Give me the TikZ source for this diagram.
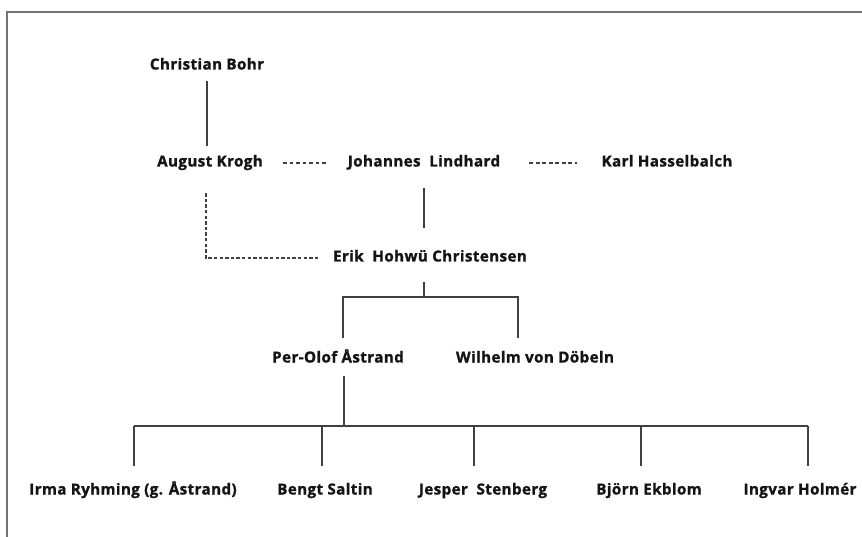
\documentclass[tikz,border=0pt]{standalone}
\usepackage{fontspec}
\setmainfont{Open Sans}[LetterSpace=2.5, BoldFeatures={FakeBold=1.2}]
\usetikzlibrary{positioning}

\begin{document}
\begin{tikzpicture}[x=1pt,y=1pt,yscale=-1,xscale=1,
  person/.style={font=\fontsize{15.2}{17}\selectfont\bfseries, text=black!92, inner sep=0pt, text height=10pt, text depth=3pt},
  link/.style={draw=black!75, line width=1.2pt},
  loose/.style={link, line width=1.6pt, dash pattern=on 3.8pt off 2.7pt},
  dotted link/.style={link, line width=1.4pt, dash pattern=on 3.4pt off 2.2pt}]
\useasboundingbox (0,0) rectangle (862,537);

%Frame
\draw [black!55, line width=1.2pt] (7,537) -- (7,12) -- (862,12) ;

% Text Node
\node [person] (bohr) at (207,66) {Christian Bohr};
% Text Node
\node [person] (krogh) at (210,163) {August Krogh};
% Text Node
\node [person] (lindhard) at (424,163) {Johannes~~Lindhard};
% Text Node
\node [person] (hasselbalch) at (667,163) {Karl Hasselbalch};
% Text Node
\node [person] (erik) at (430,258) {Erik~~Hohwü Christensen};
% Text Node
\node [person] (astrand) at (338,359) {Per-Olof Åstrand};
% Text Node
\node [person] (dobeln) at (535,359) {Wilhelm von Döbeln};
% Text Node
\node [person] (ryhming) at (133,491) {Irma Ryhming (g. Åstrand)};
\node [person] (saltin) at (325,491) {Bengt Saltin};
\node [person] (stenberg) at (483,491) {Jesper~~Stenberg};
\node [person] (ekblom) at (649,491) {Björn Ekblom};
\node [person] (holmer) at (800,491) {Ingvar Holmér};

%Coordinates of the forks
\coordinate (erikfork) at (424,297);
\coordinate (astrandtip) at (343,338);
\coordinate (dobelntip) at (518,338);
\coordinate (astrandfork) at (344,426);

%Straight Lines
\draw [link, shorten <=8.5pt, shorten >=10.5pt] (bohr.south) -- (bohr.south |- krogh.north) ;
%Dashed Lines
\draw [loose, shorten <=20pt, shorten >=21pt] (krogh.east) -- (lindhard.west) ;
\draw [loose, shorten <=29pt, shorten >=24pt] (lindhard.east) -- (hasselbalch.west) ;
%Dashed elbow
\draw [dotted link] ([yshift=23.5pt]krogh.south -| 206,0) |- ([xshift=-15pt]erik.west) ;
%Straight Lines
\draw [link] ([yshift=18.5pt]lindhard.south) -- ([yshift=-23.5pt]lindhard.south |- erik.north) ;
\draw [link] ([yshift=17.5pt]erik.south -| erikfork) -- (erikfork) ;
\draw [link] (astrandtip) |- (erikfork) -| (dobelntip) ;
\draw [link] ([yshift=10.5pt]astrand.south -| astrandfork) -- (astrandfork) ;
\draw [link] (134,426) -- (808,426) ;
\foreach \who/\x in {ryhming/134, saltin/322, stenberg/474, ekblom/641, holmer/808}
  \draw [link, shorten >=18.5pt] (\x,426) -- (\who.north -| \x,0) ;
\end{tikzpicture}
\end{document}
